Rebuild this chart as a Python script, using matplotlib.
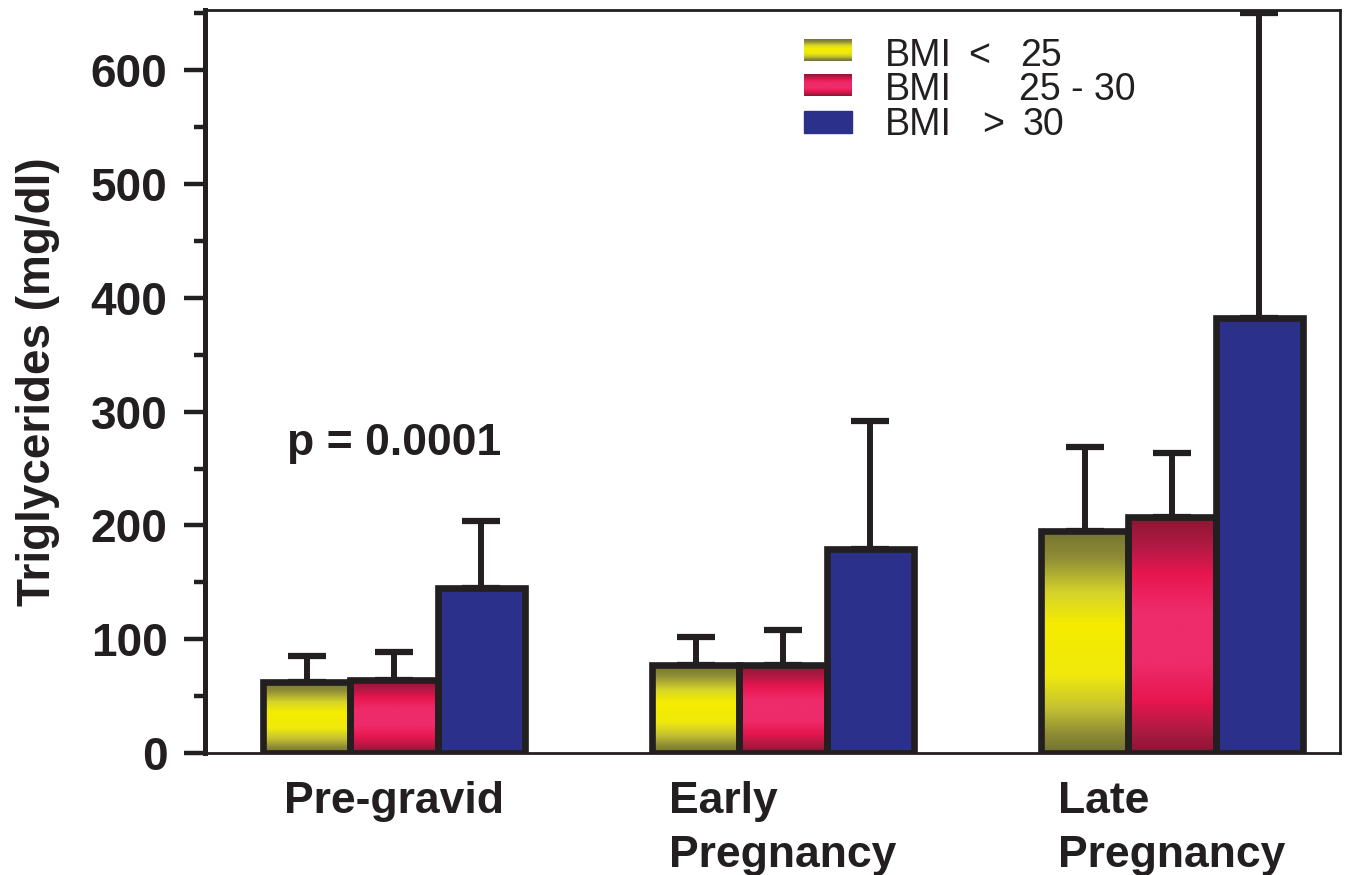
import matplotlib
matplotlib.use("Agg")
import matplotlib.pyplot as plt
import numpy as np
from matplotlib.colors import LinearSegmentedColormap
from matplotlib.patches import Rectangle
from matplotlib.ticker import MultipleLocator

plt.rcParams["font.family"] = ["Liberation Sans", "DejaVu Sans"]

# data
periods = ["Pre-gravid", "Early\nPregnancy", "Late\nPregnancy"]
groups = ["BMI < 25", "BMI 25 - 30", "BMI > 30"]
bmi_lt25 = [62, 77, 195]
bmi_25_30 = [64, 77, 207]
bmi_gt30 = [145, 179, 382]
sd_lt25 = [23, 25, 74]
sd_25_30 = [25, 31, 57]
sd_gt30 = [59, 113, 268]
p_text = "p = 0.0001"

EDGE = "#231f20"
YELLOW = LinearSegmentedColormap.from_list("yel", [
    (0.00, "#747431"), (0.12, "#8f8d37"), (0.28, "#d6d42a"), (0.42, "#f5ec00"),
    (0.65, "#f0e90c"), (0.80, "#c4c133"), (0.92, "#8c8a35"), (1.00, "#727232")])
PINK = LinearSegmentedColormap.from_list("pnk", [
    (0.00, "#8c1632"), (0.12, "#b01a44"), (0.24, "#e7164f"), (0.40, "#ee2b6b"),
    (0.62, "#ee2b6b"), (0.78, "#e7164f"), (0.90, "#b01a44"), (1.00, "#8a1531")])
BLUE = "#2b318a"


def gradient_fill(ax, cmap, x0, x1, y0, y1, clip=None, transform=None):
    grad = np.linspace(0, 1, 256).reshape(-1, 1)
    kw = {}
    if transform is not None:
        kw["transform"] = transform
    im = ax.imshow(grad, cmap=cmap, aspect="auto", extent=[x0, x1, y0, y1],
                   origin="upper", interpolation="bilinear", zorder=2.2, **kw)
    if clip is not None:
        im.set_clip_path(clip)
    return im


def main():
    fig = plt.figure(figsize=(13.65, 8.75), dpi=100)
    ax = fig.add_axes([205 / 1365, 1 - 753 / 875, 1135 / 1365, 743 / 875])

    x = np.arange(len(periods))
    w = 0.224
    series = [(bmi_lt25, sd_lt25, YELLOW), (bmi_25_30, sd_25_30, PINK), (bmi_gt30, sd_gt30, BLUE)]
    for i, (vals, sds, fill) in enumerate(series):
        xs = x + (i - 1) * w
        ax.errorbar(xs, vals, yerr=[np.zeros(len(vals)), sds], fmt="none", ecolor=EDGE,
                    elinewidth=4.3, capsize=14, capthick=4.5, zorder=1)
        if isinstance(fill, str):
            ax.bar(xs, vals, width=w, color=fill, linewidth=0, zorder=2)
        else:
            bars = ax.bar(xs, vals, width=w, color="white", linewidth=0, zorder=2)
            for b in bars:
                gradient_fill(ax, fill, b.get_x(), b.get_x() + w, 0, b.get_height(), clip=b)
        ax.bar(xs, vals, width=w, fill=False, edgecolor=EDGE, linewidth=4.8, zorder=3)

    ax.text(0, 272, p_text, ha="center", va="center", fontsize=32, fontweight="bold", color=EDGE)

    # legend drawn by hand in figure coords
    rows_py = [50, 85, 122]
    base_py = [66, 100, 135]
    fills = [YELLOW, PINK, BLUE]
    parts = [[("<", 968), ("25", 1020)], [("25 - 30", 1019)], [(">", 982), ("30", 1023)]]
    for fill, cy, by, extra in zip(fills, rows_py, base_py, parts):
        y0 = 1 - (cy + 11) / 875
        y1 = 1 - (cy - 11) / 875
        if isinstance(fill, str):
            fig.add_artist(Rectangle((804 / 1365, y0), 48 / 1365, y1 - y0,
                                     transform=fig.transFigure, color=fill))
        else:
            im = gradient_fill(ax, fill, 804 / 1365, 852 / 1365, y0, y1, transform=fig.transFigure)
            im.set_clip_on(False)
        fig.text(885 / 1365, 1 - by / 875, "BMI", fontsize=27, va="baseline", color=EDGE)
        for txt, px in extra:
            fig.text(px / 1365, 1 - by / 875, txt, fontsize=27, va="baseline", color=EDGE)

    ax.set_xlim(-0.486, 2.432)
    ax.set_ylim(0, 653)
    ax.yaxis.set_major_locator(MultipleLocator(100))
    ax.yaxis.set_minor_locator(MultipleLocator(50))
    ax.tick_params(axis="y", which="major", length=15, width=3.2, pad=12, labelsize=33,
                   color=EDGE, labelcolor=EDGE)
    ax.tick_params(axis="y", which="minor", length=8, width=3.2, color=EDGE)
    for lbl in ax.get_yticklabels():
        lbl.set_fontweight("bold")

    ax.set_xticks(x)
    ax.set_xticklabels(periods, fontsize=32, fontweight="bold", color=EDGE, linespacing=1.4)
    for lbl in ax.get_xticklabels():
        lbl.set_multialignment("left")
    ax.tick_params(axis="x", length=0, pad=20)

    ax.set_ylabel("Triglycerides (mg/dl)", fontsize=33, fontweight="bold", color=EDGE, labelpad=22)

    ax.spines["left"].set_linewidth(3.6)
    for side in ["top", "right", "bottom"]:
        ax.spines[side].set_linewidth(2.0)
    for sp in ax.spines.values():
        sp.set_color(EDGE)

    fig.savefig("out.png", dpi=100)
    plt.close(fig)


if __name__ == "__main__":
    main()
